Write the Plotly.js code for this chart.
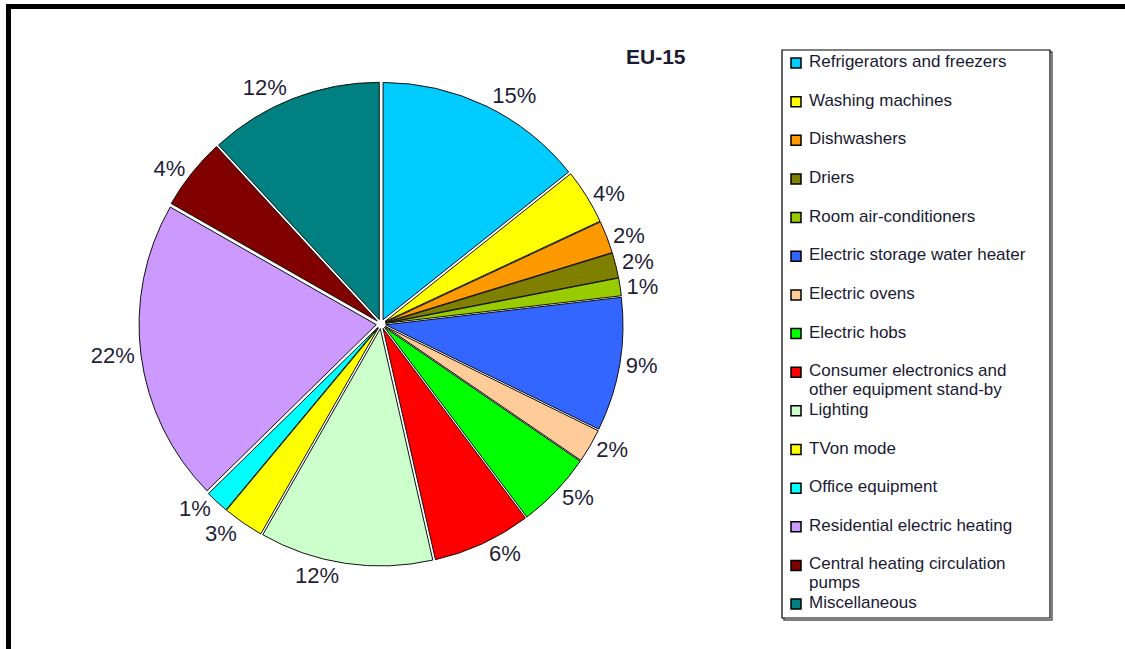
<!DOCTYPE html>
<html>
<head>
<meta charset="utf-8">
<script src="https://cdn.plot.ly/plotly-3.0.1.min.js"></script>
<style>html,body{margin:0;padding:0;background:#fff;}#chart{width:1125px;height:649px;}</style>
</head>
<body>
<div id="chart"></div>
<script>
// ---- data ----
var categories = [
  "Refrigerators and freezers",
  "Washing machines",
  "Dishwashers",
  "Driers",
  "Room air-conditioners",
  "Electric storage water heater",
  "Electric ovens",
  "Electric hobs",
  "Consumer electronics and<br>other equipment stand-by",
  "Lighting",
  "TVon mode",
  "Office equipment",
  "Residential electric heating",
  "Central heating circulation<br>pumps",
  "Miscellaneous"
];
// slice sizes estimated from the drawn angles
var shares = [14.3, 3.75, 2.2, 1.7, 1.2, 9.1, 2.3, 5.2, 6.7, 11.8, 2.8, 1.6, 20.6, 4.9, 11.85];
// percentage labels as printed on the chart
var pctLabels = ["15%", "4%", "2%", "2%", "1%", "9%", "2%", "5%", "6%", "12%", "3%", "1%", "22%", "4%", "12%"];
var colors = ["#00CCFF", "#FFFF00", "#FF9900", "#808000", "#99CC00", "#3366FF", "#FFCC99", "#00FF00",
              "#FF0000", "#CCFFCC", "#FFFF00", "#00FFFF", "#CC99FF", "#800000", "#008080"];
var chartTitle = "EU-15";

// ---- layout helpers (pixel -> paper) ----
var W = 1125, H = 649;
function px(x) { return x / W; }
function py(y) { return 1 - y / H; }

var cx = 381, cy = 324, R = 242;
var FONT = "Liberation Sans, Arial, sans-serif";

var trace = {
  type: "pie",
  values: shares,
  labels: categories,
  text: pctLabels,
  textinfo: "text",
  textposition: "outside",
  sort: false,
  direction: "clockwise",
  rotation: 0,
  pull: 0.02,
  marker: { colors: colors, line: { color: "#111", width: 1 } },
  outsidetextfont: { family: FONT, size: 22, color: "#1f1f3a" },
  domain: { x: [px(cx - R), px(cx + R)], y: [py(cy + R), py(cy - R)] },
  showlegend: false,
  hoverinfo: "label+percent"
};

var shapes = [
  // outer frame (top and left)
  { type: "line", xref: "paper", yref: "paper", x0: px(6), x1: px(1125), y0: py(6.5), y1: py(6.5), line: { color: "#000", width: 5 } },
  { type: "line", xref: "paper", yref: "paper", x0: px(8.5), x1: px(8.5), y0: py(4), y1: py(649), line: { color: "#000", width: 5 } },
  // legend shadow + box
  { type: "rect", xref: "paper", yref: "paper", x0: px(784), x1: px(1052), y0: py(620), y1: py(52), line: { color: "#555", width: 1.5 }, fillcolor: "rgba(0,0,0,0)" },
  { type: "rect", xref: "paper", yref: "paper", x0: px(782), x1: px(1050), y0: py(618), y1: py(50), line: { color: "#000", width: 1.2 }, fillcolor: "#fff" }
];

var annotations = [
  { text: "<b>" + chartTitle + "</b>", xref: "paper", yref: "paper", x: px(656), y: py(56), showarrow: false,
    xanchor: "center", yanchor: "middle", font: { family: FONT, size: 21, color: "#1a1a33" } }
];

var legendTop = 61.5, legendStep = 38.65;
for (var i = 0; i < categories.length; i++) {
  var yc = legendTop + i * legendStep;
  shapes.push({ type: "rect", xref: "paper", yref: "paper", x0: px(791), x1: px(801), y0: py(yc + 6.5), y1: py(yc - 3.5),
    fillcolor: colors[i], line: { color: "#000", width: 1.5 } });
  var lines = categories[i].split("<br>");
  for (var k = 0; k < lines.length; k++) {
    annotations.push({ text: lines[k], xref: "paper", yref: "paper", x: px(808), y: py(yc + k * 19),
      showarrow: false, xanchor: "left", yanchor: "middle", align: "left", borderpad: 0,
      font: { family: FONT, size: 17, color: "#1a1a33" } });
  }
}

var layout = {
  width: W, height: H,
  margin: { l: 0, r: 0, t: 0, b: 0 },
  paper_bgcolor: "#fff",
  showlegend: false,
  shapes: shapes,
  annotations: annotations
};

Plotly.newPlot("chart", [trace], layout, { displayModeBar: false, staticPlot: true }).then(function () {
  // the original chart shows no leader lines for moved labels
  document.querySelectorAll("path.textline").forEach(function (p) { p.style.display = "none"; });
});
</script>
</body>
</html>
